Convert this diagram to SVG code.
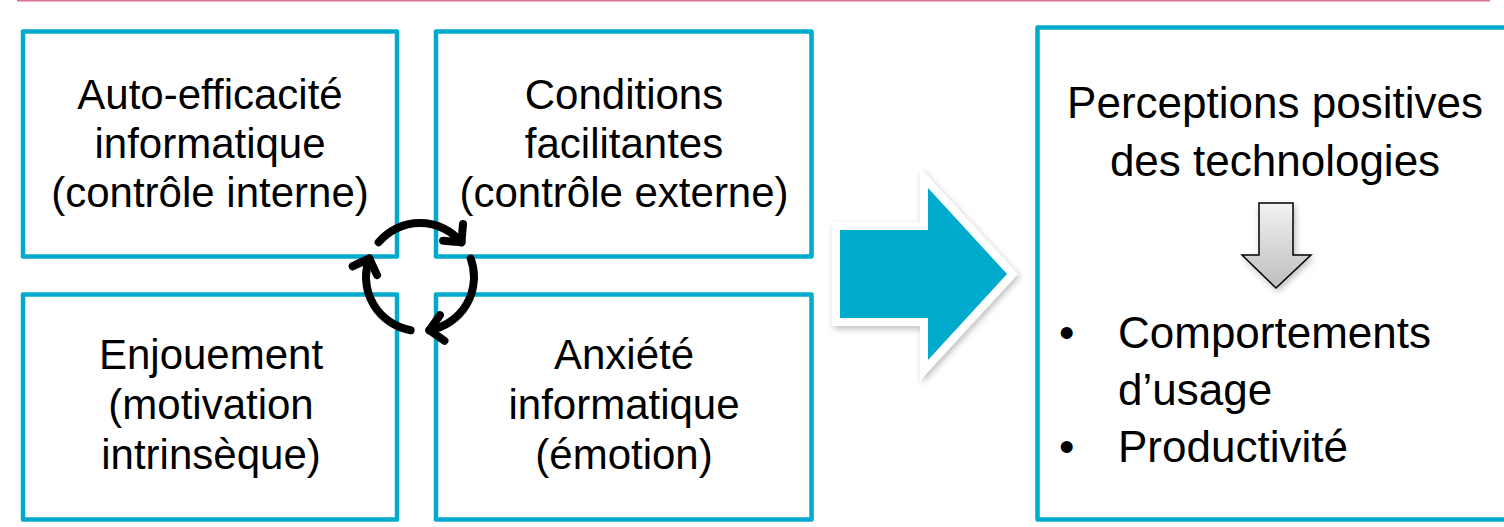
<svg xmlns="http://www.w3.org/2000/svg" width="1504" height="527" viewBox="0 0 1504 527">
<defs>
<style>
.box{fill:#fff;stroke:#00AACC;stroke-width:4.5;stroke-linejoin:round}
.t{font-family:"Liberation Sans",Arial,sans-serif;font-size:42px;fill:#000;text-anchor:middle}
.tr{font-family:"Liberation Sans",Arial,sans-serif;font-size:44px;fill:#000}
.cyc{fill:none;stroke:#000;stroke-width:8;stroke-linecap:round}
</style>
<marker id="chev" markerUnits="userSpaceOnUse" orient="auto" overflow="visible" markerWidth="1" markerHeight="1" refX="0" refY="0">
<path d="M-13,-13 L0,0 L-13,13" fill="none" stroke="#000" stroke-width="8" stroke-linecap="round" stroke-linejoin="round"/>
</marker>
<filter id="sh" x="-20%" y="-20%" width="140%" height="140%">
<feDropShadow dx="2" dy="3" stdDeviation="3" flood-color="#000" flood-opacity="0.25"/>
</filter>
<linearGradient id="g" x1="0" y1="0" x2="0" y2="1">
<stop offset="0" stop-color="#f2f2f2"/>
<stop offset="1" stop-color="#bdbdbd"/>
</linearGradient>
</defs>
<line x1="17" y1="0.5" x2="1490" y2="0.5" stroke="#D9709A" stroke-width="2"/>
<g id="node-auto-efficacite">
<rect class="box" x="23" y="31.5" width="374" height="225"/>
<text class="t" x="210" y="109">Auto-efficacité</text>
<text class="t" x="210" y="158">informatique</text>
<text class="t" x="210" y="207">(contrôle interne)</text>
</g>
<g id="node-conditions">
<rect class="box" x="436" y="31.5" width="375.5" height="225"/>
<text class="t" x="624" y="109">Conditions</text>
<text class="t" x="624" y="158">facilitantes</text>
<text class="t" x="624" y="207">(contrôle externe)</text>
</g>
<g id="node-enjouement">
<rect class="box" x="23" y="294.5" width="374" height="225"/>
<text class="t" x="211" y="369">Enjouement</text>
<text class="t" x="211" y="419">(motivation</text>
<text class="t" x="211" y="469">intrinsèque)</text>
</g>
<g id="node-anxiete">
<rect class="box" x="436" y="294.5" width="375.5" height="225"/>
<text class="t" x="624" y="369">Anxiété</text>
<text class="t" x="624" y="419">informatique</text>
<text class="t" x="624" y="469">(émotion)</text>
</g>
<g id="node-perceptions">
<rect class="box" x="1037.5" y="27.5" width="490" height="492"/>
<text class="tr" x="1275" y="118" text-anchor="middle">Perceptions positives</text>
<text class="tr" x="1275" y="176" text-anchor="middle">des technologies</text>
<polygon points="1259,203 1293,203 1293,255 1311,255 1276,288 1242,255 1259,255" fill="url(#g)" stroke="#000" stroke-width="1.5" filter="url(#sh)"/>
<text class="tr" x="1059" y="348">•</text>
<text class="tr" x="1118" y="348">Comportements</text>
<text class="tr" x="1118" y="405">d’usage</text>
<text class="tr" x="1059" y="462">•</text>
<text class="tr" x="1118" y="462">Productivité</text>
</g>
<g id="connectors">
<path class="cyc" d="M378.6,242.3 A54,54 0 0 1 461.4,242.3" marker-end="url(#chev)"/>
<path class="cyc" d="M470.7,258.5 A54,54 0 0 1 429.4,330.2" marker-end="url(#chev)"/>
<path class="cyc" d="M410.6,330.2 A54,54 0 0 1 369.3,258.5" marker-end="url(#chev)"/>
<polygon points="840,230 928,230 928,188 1007,274 928,360 928,318 840,318" fill="#00AACC" stroke="#fff" stroke-width="16" stroke-linejoin="miter" paint-order="stroke" filter="url(#sh)"/>
</g>
</svg>
